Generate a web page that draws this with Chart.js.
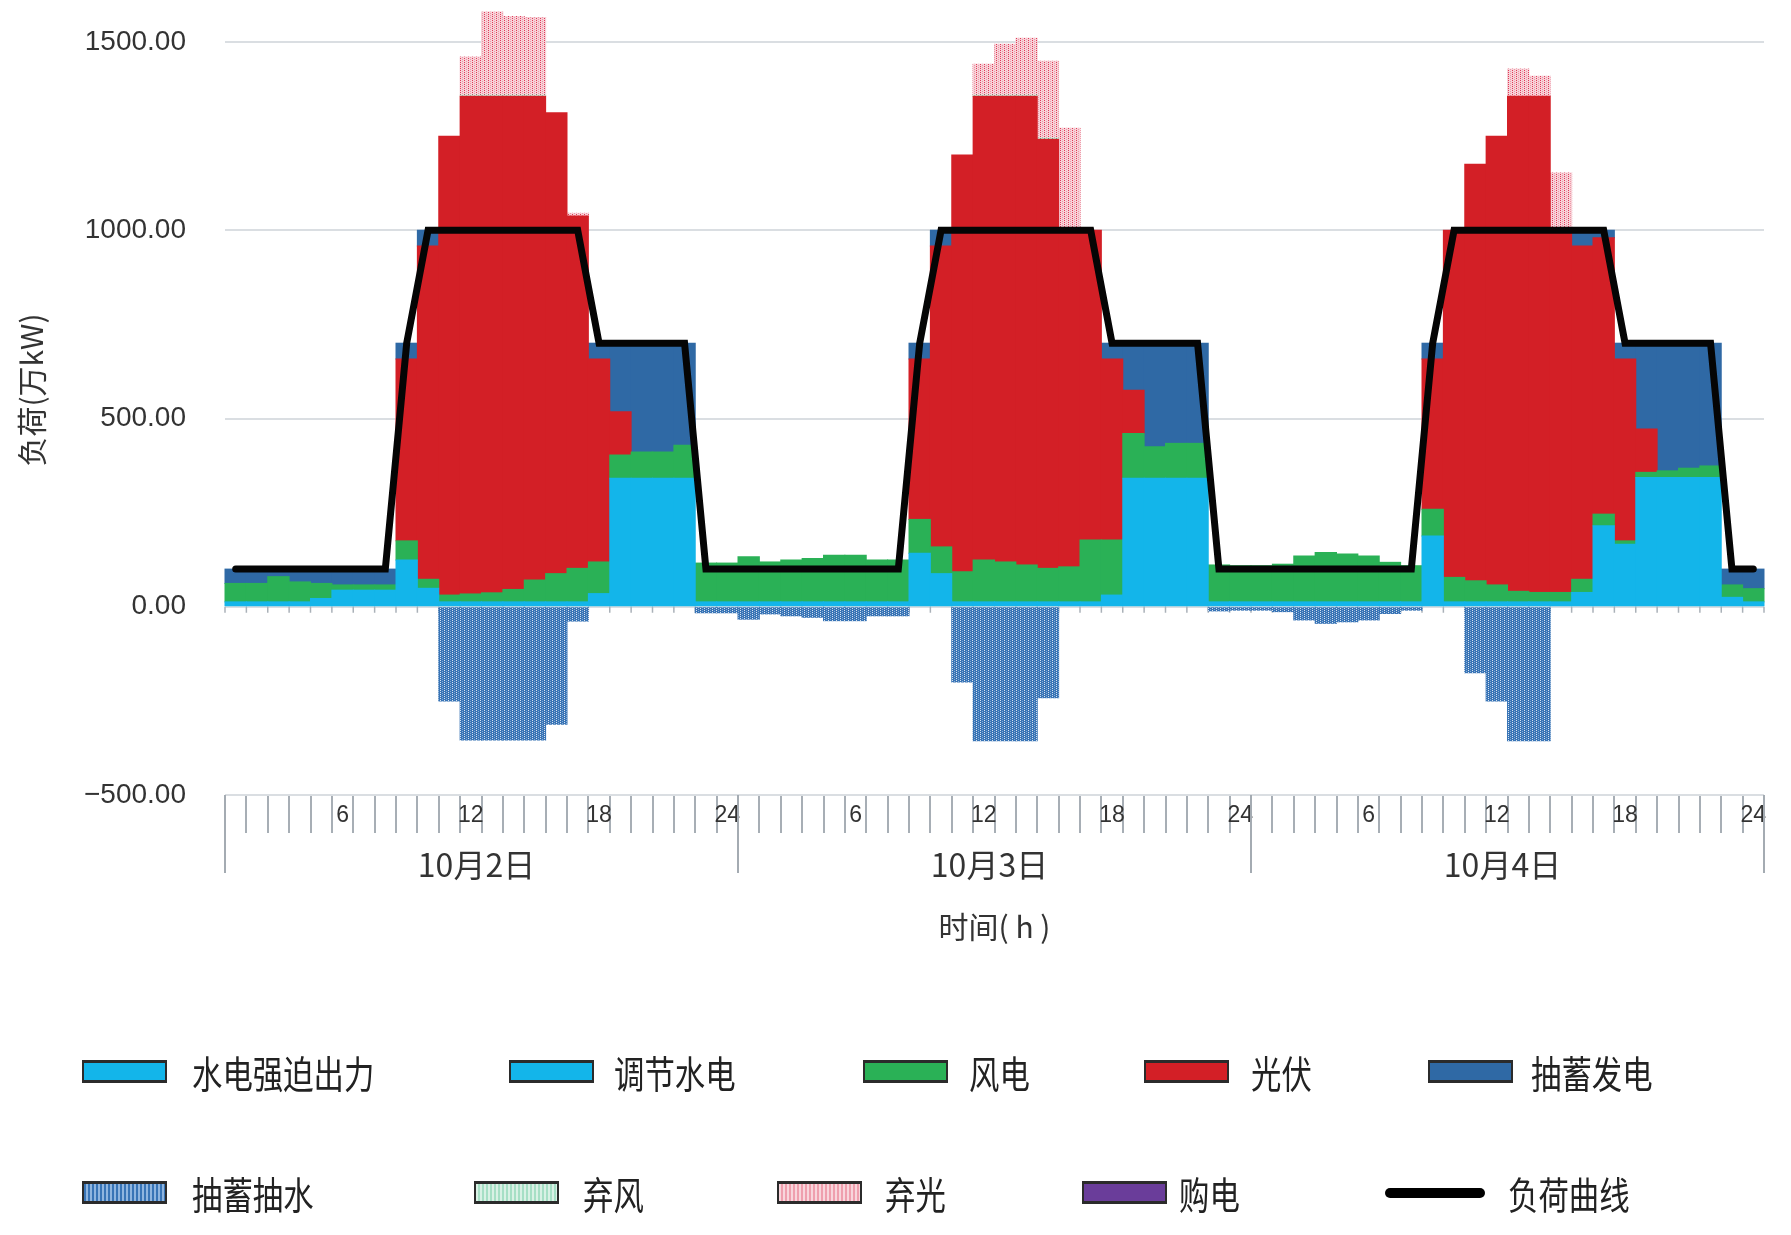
<!DOCTYPE html>
<html>
<head>
<meta charset="utf-8">
<script src="https://cdn.jsdelivr.net/npm/chart.js@4.4.1/dist/chart.umd.min.js"></script>
<style>
  html, body { margin: 0; padding: 0; background: #fff; }
  #wrap { position: relative; width: 1791px; height: 1235px; }
  #chart { position: absolute; left: 0; top: 0; }
  .lg-box { position: absolute; width: 81px; height: 17px; border: 2px solid #2b2b2b; border-top-width: 3px; border-bottom-width: 3px; }
  .lg-text { position: absolute; font-family: 'Noto Sans CJK SC', sans-serif; font-size: 38px; line-height: 44px; color: #222; transform: scaleX(0.8); transform-origin: left center; white-space: nowrap; }
  .lg-line { position: absolute; width: 100px; height: 10px; border-radius: 5px; background: #000; }
</style>
</head>
<body>
<div id="wrap">
  <canvas id="chart" width="1791" height="1235"></canvas>
  <div id="legend"></div>
</div>
<script>
// hour ticks for one day, three days on the axis
const hourTicks = ['1','2','3','4','5','6','7','8','9','10','11','12','13','14','15','16','17','18','19','20','21','22','23','24']
const dayLabels = ['10月2日', '10月3日', '10月4日']
const hourLabels = [...hourTicks, ...hourTicks, ...hourTicks]

// 万kW (day 1 | day 2 | day 3)
const loadCurve = [
  100,100,100,100,100,100,100,100, 700,1000,1000,1000,1000,1000,1000,1000,1000, 700,700,700,700,700, 100,100,
  100,100,100,100,100,100,100,100, 700,1000,1000,1000,1000,1000,1000,1000,1000, 700,700,700,700,700, 100,100,
  100,100,100,100,100,100,100,100, 700,1000,1000,1000,1000,1000,1000,1000,1000, 700,700,700,700,700, 100,100
]
const hydroForced = [
  13,13,13,13,13,13,13,13,13,13,13,13,13,13,13,13,13,13,13,13,13,13,13,13,
  13,13,13,13,13,13,13,13,13,13,13,13,13,13,13,13,13,13,13,13,13,13,13,13,
  13,13,13,13,13,13,13,13,13,13,13,13,13,13,13,13,13,13,13,13,13,13,13,13
]
const hydroReg = [
  0,0,0,0,9,31,31,31, 111,36,0,0,0,0,0,0,0,22, 328,328,328,328, 0,0,
  0,0,0,0,0,0,0,0, 129,75,0,0,0,0,0,0,0,18, 328,328,328,328, 0,0,
  0,0,0,0,0,0,0,0, 175,0,0,0,0,0,0,25,202,153, 330,330,330,330, 12,0
]
const windPower = [
  49,49,67,53,40,14,14,14, 51,24,18,21,24,33,58,75,89,84, 62,70,70,88, 103,103,
  120,106,111,115,124,124,111,111, 90,71,80,111,106,98,89,93,164,146, 119,84,93,93, 98,96,
  96,100,122,131,127,122,105,96, 71,65,56,45,28,25,25,35,31,9, 14,18,25,31, 33,35
]
const pvPower = [
  0,0,0,0,0,0,0,0, 483,885,1219,1322,1319,1310,1285,1224,936,539, 115,0,0,0, 0,0,
  0,0,0,0,0,0,0,0, 426,799,1107,1232,1237,1245,1140,894,823,481, 115,0,0,0, 0,0,
  0,0,0,0,0,0,0,0, 399,922,1106,1192,1315,1318,962,885,734,483, 115,0,0,0, 0,0
]
const pumpGen = [
  38,38,20,34,38,42,42,42, 42,42,0,0,0,0,0,0,0,42, 182,289,289,271, 0,0,
  0,0,0,0,0,0,0,0, 42,42,0,0,0,0,0,0,0,42, 125,275,266,266, 0,0,
  0,0,0,0,0,0,0,0, 42,0,0,0,0,0,0,42,20,42, 228,339,332,326, 42,52
]
const purchase = [
  0,0,0,0,0,0,0,0,0,0,0,0,0,0,0,0,0,0,0,0,0,0,0,0,
  0,0,0,0,0,0,0,0,0,0,0,0,0,0,0,0,0,0,0,0,0,0,0,0,
  0,0,0,0,0,0,0,0,0,0,0,0,0,0,0,0,0,0,0,0,0,0,0,0
]
const windCurtail = [
  0,0,0,0,0,0,0,0, 0,0,0,3,3,3,3,0,0,0, 0,0,0,0, 0,0,
  0,0,0,0,0,0,0,0, 0,0,0,3,3,3,3,4,0,0, 0,0,0,0, 0,0,
  0,0,0,0,0,0,0,0, 0,0,0,0,0,0,0,0,0,0, 0,0,0,0, 0,0
]
const pvCurtail = [
  0,0,0,0,0,0,0,0, 0,0,0,101,221,209,206,0,7,0, 0,0,0,0, 0,0,
  0,0,0,0,0,0,0,0, 0,0,0,82,135,151,204,267,0,0, 0,0,0,0, 0,0,
  0,0,0,0,0,0,0,0, 0,0,0,0,72,53,152,0,0,0, 0,0,0,0, 0,0
]
const pumpLoad = [
  0,0,0,0,0,0,0,0, 0,0,-250,-354,-354,-354,-354,-312,-38,0, 0,0,0,0, -16,-16,
  -33,-19,-24,-28,-37,-37,-24,-24, 0,0,-200,-356,-356,-356,-242,0,0,0, 0,0,0,0, -11,-9,
  -9,-13,-35,-44,-40,-35,-18,-9, 0,0,-175,-250,-356,-356,0,0,0,0, 0,0,0,0, 0,0
]

// dotted fill like the printed hatch
function makePattern(bg, dot1, dot2) {
    const c = document.createElement('canvas')
    c.width = 4
    c.height = 4
    const g = c.getContext('2d')
    g.fillStyle = bg
    g.fillRect(0, 0, 4, 4)
    g.fillStyle = dot1
    g.fillRect(0, 0, 1, 1)
    g.fillRect(0, 2, 1, 1)
    g.fillStyle = dot2
    g.fillRect(2, 1, 1, 1)
    g.fillRect(2, 3, 1, 1)
    return g.createPattern(c, 'repeat')
}

const colors = {
    hydro: '#13b5ea',
    wind: '#2ab156',
    pv: '#d31f26',
    pumpGen: '#2f69a5',
    buy: '#6a3d9a',
    pumpLoad: makePattern('#3874b6', 'rgba(255,255,255,0.8)', 'rgba(255,255,255,0.4)'),
    windCurt: makePattern('#d3efe1', '#3dbb8a', '#8ed6b6'),
    pvCurt: makePattern('#f7d2d8', '#e03a58', '#ee97a7')
}

function barSet(label, values, color) {
    return {
        type: 'bar',
        label: label,
        data: values.map(v => v === 0 ? null : v),
        backgroundColor: color,
        borderWidth: 0,
        barPercentage: 1,
        categoryPercentage: 1,
        inflateAmount: 0.5,
        clip: false,
        stack: 'gen',
        order: 1
    }
}

// day separators, date names and axis titles
const axisExtras = {
    id: 'axisExtras',
    beforeDatasetsDraw(chart) {
        const {ctx, chartArea: a, scales: {y}} = chart
        const step = (a.right - a.left) / hourLabels.length
        const y0 = y.getPixelForValue(0)
        ctx.save()
        ctx.strokeStyle = '#aab1b8'
        ctx.lineWidth = 1.5
        for (let k = 0; k <= hourLabels.length; k++) {
            const px = a.left + k * step
            ctx.beginPath()
            ctx.moveTo(px, y0)
            ctx.lineTo(px, y0 + 6)
            ctx.stroke()
        }
        ctx.restore()
    },
    afterDraw(chart) {
        const {ctx, chartArea: a} = chart
        const step = (a.right - a.left) / hourLabels.length
        ctx.save()
        ctx.strokeStyle = '#a4abb2'
        ctx.lineWidth = 2
        for (let d = 0; d <= dayLabels.length; d++) {
            const px = a.left + d * 24 * step
            ctx.beginPath()
            ctx.moveTo(px, a.bottom)
            ctx.lineTo(px, a.bottom + 78)
            ctx.stroke()
        }
        ctx.fillStyle = '#333'
        ctx.font = '32px "Noto Sans CJK SC", sans-serif'
        ctx.textAlign = 'center'
        ctx.textBaseline = 'middle'
        dayLabels.forEach((t, d) => {
            ctx.fillText(t, a.left + (d * 24 + 12) * step - 5, a.bottom + 70)
        })
        ctx.font = '30px "Noto Sans CJK SC", sans-serif'
        ctx.fillText('时间( h )', (a.left + a.right) / 2, a.bottom + 132)
        ctx.translate(32, 390)
        ctx.rotate(-Math.PI / 2)
        ctx.fillText('负荷(万kW)', 0, 0)
        ctx.restore()
    }
}

new Chart(document.getElementById('chart'), {
    type: 'bar',
    data: {
        labels: hourLabels,
        datasets: [
            {
                type: 'line',
                label: '负荷曲线',
                data: loadCurve,
                borderColor: '#050505',
                borderWidth: 7,
                borderJoinStyle: 'miter',
                borderCapStyle: 'round',
                pointRadius: 0,
                tension: 0,
                fill: false,
                stack: 'load',
                order: 0
            },
            barSet('水电强迫出力', hydroForced, colors.hydro),
            barSet('调节水电', hydroReg, colors.hydro),
            barSet('风电', windPower, colors.wind),
            barSet('光伏', pvPower, colors.pv),
            barSet('抽蓄发电', pumpGen, colors.pumpGen),
            barSet('购电', purchase, colors.buy),
            barSet('弃风', windCurtail, colors.windCurt),
            barSet('弃光', pvCurtail, colors.pvCurt),
            barSet('抽蓄抽水', pumpLoad, colors.pumpLoad)
        ]
    },
    options: {
        responsive: false,
        animation: false,
        layout: { padding: { top: 42, right: 27, bottom: 290, left: 0 } },
        plugins: {
            legend: { display: false },
            tooltip: { enabled: false }
        },
        scales: {
            x: {
                stacked: true,
                grid: { offset: true, drawOnChartArea: false, tickLength: 38, color: '#a7aeb5', lineWidth: 2 },
                border: { display: false },
                ticks: {
                    autoSkip: false,
                    maxRotation: 0,
                    padding: -31,
                    color: '#333',
                    font: { family: "'Liberation Sans Narrow', 'Liberation Sans', sans-serif", size: 23 },
                    callback: function (v, i) { return (i + 1) % 6 === 0 ? this.getLabelForValue(v) : '' }
                },
                afterFit(s) { s.height = 150 }
            },
            y: {
                stacked: true,
                min: -500,
                max: 1500,
                // invisible tick marks keep the labels away from the plot
                grid: { color: '#dadee2', lineWidth: 2, drawTicks: true, tickLength: 39, tickColor: 'rgba(0,0,0,0)' },
                border: { display: false },
                ticks: {
                    stepSize: 500,
                    padding: 0,
                    color: '#333',
                    font: { family: "'Liberation Sans', sans-serif", size: 28 },
                    callback: v => (v < 0 ? '\u2212' : '') + Math.abs(v).toFixed(2)
                },
                afterFit(s) { s.width = 225 }
            }
        }
    },
    plugins: [axisExtras]
})

// legend laid out as in the figure
const legendItems = [
    { label: '水电强迫出力', fill: '#13b5ea', box: 82, text: 192, row: 1072 },
    { label: '调节水电', fill: '#13b5ea', box: 509, text: 614, row: 1072 },
    { label: '风电', fill: '#2ab156', box: 863, text: 969, row: 1072 },
    { label: '光伏', fill: '#d31f26', box: 1144, text: 1251, row: 1072 },
    { label: '抽蓄发电', fill: '#2f69a5', box: 1428, text: 1531, row: 1072 },
    { label: '抽蓄抽水', fill: 'repeating-linear-gradient(90deg, #3874b6 0 2px, #8fb5df 2px 4px)', box: 82, text: 192, row: 1193 },
    { label: '弃风', fill: 'repeating-linear-gradient(90deg, #d9f1e5 0 2px, #a6dfc5 2px 4px)', box: 474, text: 583, row: 1193 },
    { label: '弃光', fill: 'repeating-linear-gradient(90deg, #f8d6dc 0 2px, #ef9fae 2px 4px)', box: 777, text: 885, row: 1193 },
    { label: '购电', fill: '#6a3d9a', box: 1082, text: 1179, row: 1193 },
    { label: '负荷曲线', fill: null, box: 1385, text: 1508, row: 1193 }
]

const legend = document.getElementById('legend')
legendItems.forEach(item => {
    const mark = document.createElement('div')
    if (item.fill) {
        mark.className = 'lg-box'
        mark.style.background = item.fill
        mark.style.left = item.box + 'px'
        mark.style.top = (item.row - 12) + 'px'
    } else {
        mark.className = 'lg-line'
        mark.style.left = item.box + 'px'
        mark.style.top = (item.row - 5) + 'px'
    }
    legend.appendChild(mark)

    const txt = document.createElement('div')
    txt.className = 'lg-text'
    txt.textContent = item.label
    txt.style.left = item.text + 'px'
    txt.style.top = (item.row - 22) + 'px'
    legend.appendChild(txt)
})
</script>
</body>
</html>
